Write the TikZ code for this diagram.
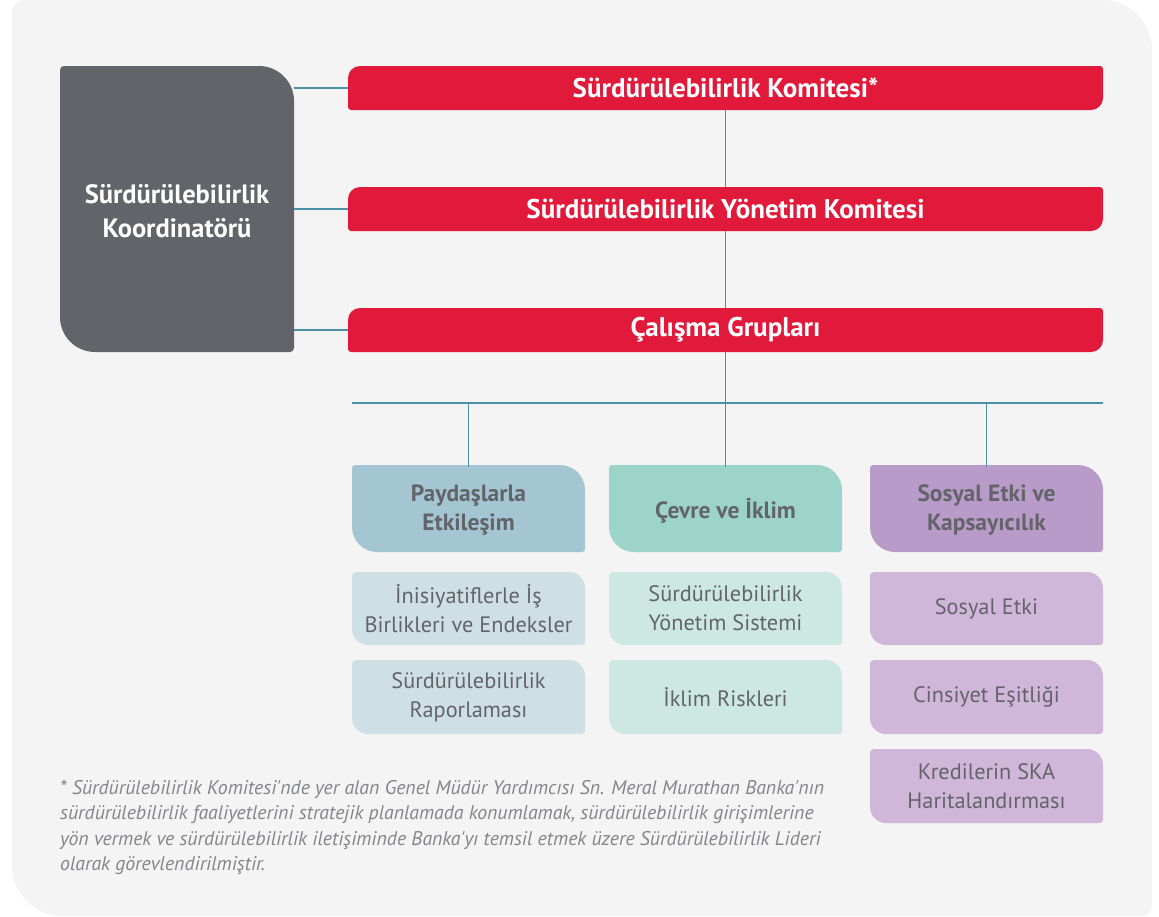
\documentclass[tikz,border=0pt]{standalone}
\usepackage{fontspec}
\setmainfont{PT Sans}
\newfontfamily\notefont{PT Sans}
\definecolor{bgc}{HTML}{F4F4F4}
\definecolor{coordc}{HTML}{636469}
\definecolor{redc}{HTML}{E1193A}
\definecolor{linec}{HTML}{4A90A8}
\definecolor{cata}{HTML}{A3C6D2}
\definecolor{catb}{HTML}{9DD4C9}
\definecolor{catc}{HTML}{B99BC9}
\definecolor{suba}{HTML}{CFDFE6}
\definecolor{subb}{HTML}{CCE8E1}
\definecolor{subc}{HTML}{D0B7DA}
\definecolor{txtc}{HTML}{636469}
\definecolor{notec}{HTML}{848588}
% #1 x1, #2 y1, #3 x2, #4 y2, #5 rTL, #6 rTR, #7 rBR, #8 rBL, #9 colour
\newcommand\rfill[9]{\fill[#9] (#1+#5,#2) -- (#3-#6,#2) arc (270:360:#6) -- (#3,#4-#7) arc (0:90:#7) -- (#1+#8,#4) arc (90:180:#8) -- (#1,#2+#5) arc (180:270:#5) -- cycle;}
\tikzset{
  lbl/.style={inner sep=0pt, align=center},
  bartxt/.style={lbl, text=white, font=\fontsize{27bp}{32bp}\selectfont\bfseries, minimum width=755bp, minimum height=44bp},
  cattxt/.style={lbl, text=txtc, font=\fontsize{23.5bp}{29bp}\selectfont\bfseries, minimum width=233bp, minimum height=87bp},
  subtxt/.style={lbl, text=txtc, font=\fontsize{22.3bp}{29bp}\selectfont, minimum width=233bp, minimum height=74bp},
  conn/.style={draw=linec, line width=1.2bp},
}
\begin{document}
\begin{tikzpicture}[x=1bp,y=-1bp]
\useasboundingbox (0,0) rectangle (1159,917);
% background
\rfill{12}{0}{1152}{916}{12}{50}{10}{50}{bgc}
% coordinator
\rfill{60}{66}{294}{352}{4}{35}{4}{35}{coordc}
\node[lbl, text=white, font=\fontsize{26.5bp}{34bp}\selectfont\bfseries, minimum width=234bp, minimum height=286bp] (coord) at (177,211) {Sürdürülebilirlik\\Koordinatörü};
% red bars
\rfill{348}{66}{1103}{110}{12}{3}{12}{3}{redc}
\rfill{348}{187}{1103}{231}{12}{3}{12}{3}{redc}
\rfill{348}{308}{1103}{352}{12}{3}{12}{3}{redc}
\node[bartxt] (k1) at (725.5,88) {Sürdürülebilirlik Komitesi*};
\node[bartxt] (k2) at (725.5,209) {Sürdürülebilirlik Yönetim Komitesi};
\node[bartxt] (k3) at (725.5,330) {Çalışma Grupları};
% categories
\rfill{352}{465}{585}{552}{3}{25}{3}{25}{cata}
\rfill{609}{465}{842}{552}{3}{25}{3}{25}{catb}
\rfill{870}{465}{1103}{552}{3}{25}{3}{25}{catc}
\node[cattxt] (c1) at (468.5,510.5) {Paydaşlarla\\Etkileşim};
\node[cattxt] (c2) at (725.5,510.5) {Çevre ve İklim};
\node[cattxt] (c3) at (986.5,510.5) {Sosyal Etki ve\\Kapsayıcılık};
% sub boxes
\rfill{352}{572}{585}{645}{4}{16}{3}{16}{suba}
\rfill{352}{660}{585}{734}{4}{16}{3}{16}{suba}
\rfill{609}{572}{842}{645}{4}{16}{3}{16}{subb}
\rfill{609}{660}{842}{734}{4}{16}{3}{16}{subb}
\rfill{870}{572}{1103}{645}{4}{16}{3}{16}{subc}
\rfill{870}{660}{1103}{734}{4}{16}{3}{16}{subc}
\rfill{870}{749}{1103}{823}{4}{16}{3}{16}{subc}
\node[subtxt] (s11) at (468.5,608.5) {İnisiyatiflerle İş\\Birlikleri ve Endeksler};
\node[subtxt] (s12) at (468.5,697) {Sürdürülebilirlik\\Raporlaması};
\node[subtxt] (s21) at (725.5,608.5) {Sürdürülebilirlik\\Yönetim Sistemi};
\node[subtxt] (s22) at (725.5,697) {İklim Riskleri};
\node[subtxt] (s31) at (986.5,608.5) {Sosyal Etki};
\node[subtxt] (s32) at (986.5,697) {Cinsiyet Eşitliği};
\node[subtxt] (s33) at (986.5,786) {Kredilerin SKA\\Haritalandırması};
% connectors
\coordinate (hub) at (725.5,403);
\coordinate (hl) at (352,403);
\coordinate (hr) at (1103,403);
\draw[conn] (k1.west -| coord.east) -- (k1.west);
\draw[conn] (k2.west -| coord.east) -- (k2.west);
\draw[conn] (k3.west -| coord.east) -- (k3.west);
\draw[conn] (k1.south) -- (k2.north);
\draw[conn] (k2.south) -- (k3.north);
\draw[conn] (k3.south) -- (hub);
\draw[conn] (hl) -- (hr);
\draw[conn] (c1.north |- hub) -- (c1.north);
\draw[conn] (hub) -- (c2.north);
\draw[conn] (c3.north |- hub) -- (c3.north);
% footnote
\node[inner sep=0pt, anchor=north west, align=left, text=notec, font=\notefont\fontsize{19.8bp}{25.5bp}\selectfont\itshape] (note) at (60,780) {* Sürdürülebilirlik Komitesi'nde yer alan Genel Müdür Yardımcısı Sn. Meral Murathan Banka'nın\\sürdürülebilirlik faaliyetlerini stratejik planlamada konumlamak, sürdürülebilirlik girişimlerine\\yön vermek ve sürdürülebilirlik iletişiminde Banka'yı temsil etmek üzere Sürdürülebilirlik Lideri\\olarak görevlendirilmiştir.};
\end{tikzpicture}
\end{document}
